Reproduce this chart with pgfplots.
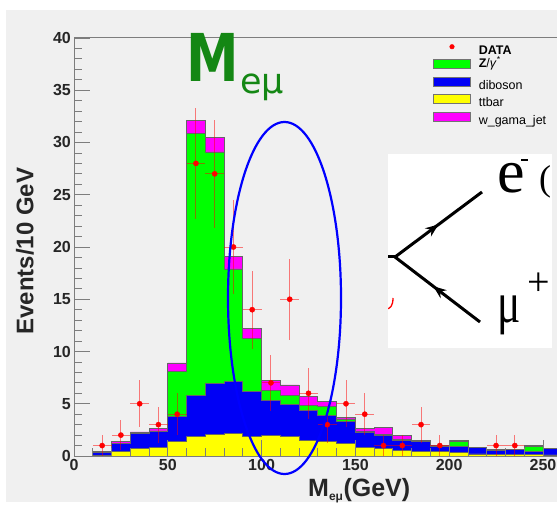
\documentclass[border=0pt]{standalone}
\usepackage{fontspec}
\setmainfont{Liberation Sans}
\newfontfamily\seriffont{Liberation Serif}
\newfontfamily\titlefont{DejaVu Sans}
\usepackage{pgfplots}
\usepackage{pgfplotstable}
\pgfplotsset{compat=1.18}
\usetikzlibrary{decorations.markings,arrows.meta}

\definecolor{panel}{RGB}{240,240,240}
\definecolor{framegray}{RGB}{125,125,125}
\definecolor{titlegreen}{RGB}{20,135,20}
\definecolor{zcol}{RGB}{0,255,0}
\definecolor{vcol}{RGB}{0,0,245}
\definecolor{tcol}{RGB}{255,255,0}
\definecolor{wcol}{RGB}{255,0,255}

% stack tops (cumulative), bin left edge in GeV
\pgfplotstableread{
x    tt    vv    zz     ww
10   0.05  0.35  0.35   0.40
20   0.40  1.20  1.20   1.35
30   0.75  2.15  2.15   2.30
40   0.80  2.35  2.40   2.65
50   1.37  3.76  8.10   8.90
60   1.85  5.80  30.90  32.10
70   2.10  6.90  29.10  30.50
80   2.20  7.10  17.90  19.10
90   1.85  6.15  11.25  12.20
100  2.00  5.35  6.30   7.20
110  1.85  4.90  5.80   6.80
120  1.50  4.40  4.80   5.70
130  1.40  3.90  4.70   5.20
140  1.20  3.30  3.55   3.65
150  0.85  2.30  2.35   2.60
160  0.75  2.00  2.05   2.75
170  0.50  1.50  1.55   2.00
180  0.40  1.35  1.40   1.45
190  0.40  0.95  1.00   1.05
200  0.30  0.95  1.35   1.45
210  0.20  0.80  0.80   0.85
220  0.15  0.55  0.55   0.60
230  0.15  0.60  0.60   0.65
240  0.15  0.40  0.95   1.00
250  0.10  0.70  0.70   0.75
260  0.10  0.70  0.70   0.75
}\stack

% data: bin centre, events, errors
\pgfplotstableread{
x    n   ex  ey
15   1   5   1.000
25   2   5   1.414
35   5   5   2.236
45   3   5   1.732
55   4   5   2.000
65   28  5   5.292
75   27  5   5.196
85   20  5   4.472
95   14  5   3.742
105  7   5   2.646
115  15  5   3.873
125  6   5   2.449
135  3   5   1.732
145  5   5   2.236
155  4   5   2.000
165  1   5   1.000
175  1   5   1.000
185  3   5   1.732
195  1   5   1.000
225  1   5   1.000
235  1   5   1.000
}\data

\begin{document}
\begin{tikzpicture}[x=1pt,y=1pt]
\useasboundingbox (0,0) rectangle (557,504);
\fill[panel] (6,2) rectangle (557,494);
\begin{axis}[
  at={(74pt,48pt)}, anchor=south west,
  scale only axis, width=497.1pt, height=418pt,
  xmin=0, xmax=265, ymin=0, ymax=40,
  axis background/.style={fill=panel},
  axis on top,
  axis line style={framegray, line width=1pt},
  tick style={framegray, line width=0.8pt},
  tick align=inside, tick pos=left,
  major tick length=16pt, minor tick length=8pt,
  xtick={0,50,...,250}, minor x tick num=4,
  ytick={0,5,...,40}, minor y tick num=4,
  /pgf/number format/assume math mode=true,
  tick label style={font=\fontsize{16}{16}\selectfont\bfseries, text=black!85},
  xticklabel style={inner sep=1pt, yshift=-2pt},
  yticklabel style={inner sep=1pt, xshift=-2pt},
  xlabel={M\textsubscript{\fontsize{12}{12}\selectfont eμ}(GeV)},
  xlabel style={font=\fontsize{25}{25}\selectfont\bfseries, text=black!85,
    at={(axis description cs:0.4707,-0.098)}, anchor=base west, inner sep=0pt},
  ylabel={Events/10 GeV},
  ylabel style={font=\fontsize{24}{24}\selectfont\bfseries, text=black!85,
    at={(axis description cs:-0.0986,0.490)}, anchor=center},
  legend style={at={(axis description cs:0.7222,0.9856)}, anchor=north west,
    draw=none, fill=none, inner sep=0pt, row sep=0pt, column sep=7pt,
    font=\fontsize{12.5}{12.5}\selectfont,
    nodes={inner sep=1pt, text height=9pt, text depth=4pt}},
  legend cell align=left,
]
\addlegendimage{legend image code/.code={\fill[red] (18.5pt,5pt) circle (2.3pt);}}
\addlegendentry{\textbf{DATA}}
\addlegendimage{legend image code/.code={\draw[draw=black!55, fill=zcol, line width=0.6pt] (0pt,0.7pt) rectangle (37pt,9.7pt);}}
\addlegendentry{\raisebox{4.5pt}{\textbf{Z}/\textit{γ}\textsuperscript{*}}}
\addlegendimage{legend image code/.code={\draw[draw=black!55, fill=vcol, line width=0.6pt] (0pt,0.7pt) rectangle (37pt,9.7pt);}}
\addlegendentry{diboson}
\addlegendimage{legend image code/.code={\draw[draw=black!55, fill=tcol, line width=0.6pt] (0pt,0.7pt) rectangle (37pt,9.7pt);}}
\addlegendentry{ttbar}
\addlegendimage{legend image code/.code={\draw[draw=black!55, fill=wcol, line width=0.6pt] (0pt,0.7pt) rectangle (37pt,9.7pt);}}
\addlegendentry{w\_gama\_jet}

\addplot[const plot, fill=wcol, draw=black!60, line width=0.8pt, forget plot] table[x=x, y=ww]{\stack} \closedcycle;
\addplot[const plot, fill=zcol, draw=black!60, line width=0.8pt, forget plot] table[x=x, y=zz]{\stack} \closedcycle;
\addplot[const plot, fill=vcol, draw=black!60, line width=0.8pt, forget plot] table[x=x, y=vv]{\stack} \closedcycle;
\addplot[const plot, fill=tcol, draw=black!60, line width=0.8pt, forget plot] table[x=x, y=tt]{\stack} \closedcycle;

\addplot[only marks, mark=*, mark size=2.6pt, color=red, forget plot,
  error bars/.cd, x dir=both, x explicit, y dir=both, y explicit,
  error mark=none,
  error bar style={red, line width=1pt, opacity=0.5}]
  table[x=x, y=n, x error=ex, y error=ey]{\data};
\end{axis}

% title
\node[anchor=base west, inner sep=0pt, text=titlegreen, xscale=0.8,
  font=\titlefont\bfseries\fontsize{66}{66}\selectfont] at (186,422) {M};
\node[anchor=base west, inner sep=0pt, text=titlegreen,
  font=\titlefont\fontsize{35}{35}\selectfont] at (240,410) {eμ};

% selection ellipse
\draw[blue, line width=2.2pt] (284.5,206) ellipse [x radius=56.5pt, y radius=176pt];

% Feynman inset
\fill[white] (388,156) rectangle (552,350);
\begin{scope}
\clip (388,156) rectangle (552,350);
\draw[line width=3pt] (380,247) -- (395,247);
\draw[line width=3pt, postaction={decorate}, decoration={markings,
  mark=at position 0.5 with {\arrow{Stealth[length=13pt,width=10pt]}}}]
  (395,247) -- (482,312);
\draw[line width=3pt, postaction={decorate}, decoration={markings,
  mark=at position 0.55 with {\arrow{Stealth[length=13pt,width=10pt]}}}]
  (480,182) -- (395,247);
\node[anchor=base west, inner sep=0pt, font=\seriffont\fontsize{62}{62}\selectfont] at (497,311) {e};
\draw[line width=1.6pt] (521,344) -- (528,344);
\node[anchor=base west, inner sep=0pt, font=\seriffont\fontsize{36}{36}\selectfont] at (539,313) {(};
\node[anchor=base west, inner sep=0pt, xscale=0.75, font=\seriffont\fontsize{58}{58}\selectfont] at (497,182) {μ};
\node[inner sep=0pt, font=\seriffont\fontsize{40}{40}\selectfont] at (539,220) {+};
\draw[red, line width=1.3pt] (393,206) .. controls (393,198) and (390,195) .. (386,195);
\end{scope}
\end{tikzpicture}
\end{document}
